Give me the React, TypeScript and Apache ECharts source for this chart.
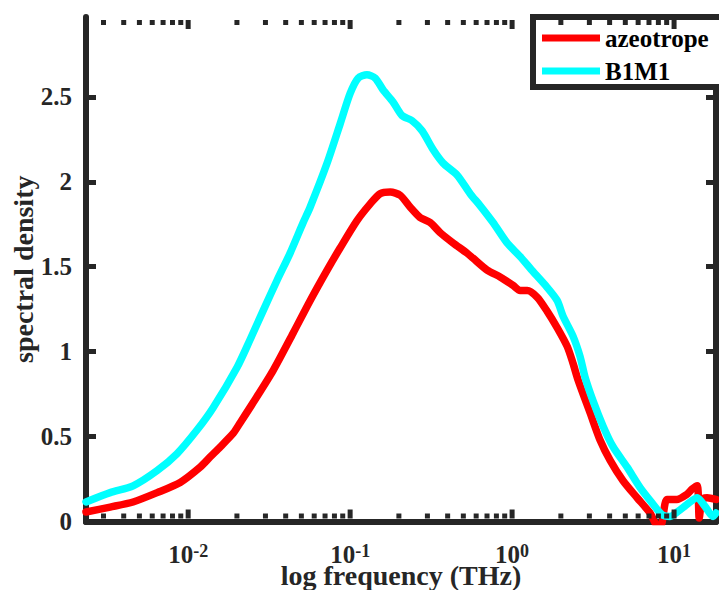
import React, { useEffect, useRef } from "react";
import * as echarts from "echarts";

// ---- data ----
const SERIES_NAMES = ["azeotrope", "B1M1"];

const AZ_FREQ = [0.00234, 0.0033, 0.00457, 0.00644, 0.00893, 0.01186, 0.01367, 0.0158, 0.019, 0.0209, 0.0252, 0.0335, 0.0445, 0.0566, 0.0721, 0.0867, 0.11, 0.133, 0.153, 0.177, 0.204, 0.235, 0.27, 0.312, 0.36, 0.432, 0.527, 0.574, 0.701, 0.843, 1.014, 1.12, 1.24, 1.43, 1.64, 1.9, 2.19, 2.38, 2.56, 3.03, 3.49, 4.03, 4.84, 5.91, 7.11, 7.85, 8.3, 9.03, 10.4, 12.0, 12.9, 13.9, 14.3, 14.9, 16.0, 18.15];
const AZ_VAL = [0.056, 0.085, 0.115, 0.17, 0.23, 0.32, 0.38, 0.44, 0.52, 0.58, 0.7, 0.89, 1.11, 1.3, 1.48, 1.61, 1.77, 1.87, 1.93, 1.94, 1.92, 1.85, 1.79, 1.76, 1.7, 1.64, 1.58, 1.55, 1.48, 1.44, 1.39, 1.36, 1.36, 1.32, 1.24, 1.14, 1.03, 0.93, 0.83, 0.64, 0.48, 0.36, 0.24, 0.14, 0.05, -0.02, -0.02, 0.13, 0.13, 0.16, 0.19, 0.21, 0.02, 0.13, 0.14, 0.13];

const B1_FREQ = [0.00234, 0.0033, 0.00457, 0.00644, 0.00855, 0.01137, 0.01426, 0.0201, 0.0241, 0.029, 0.0354, 0.0426, 0.0513, 0.0566, 0.0721, 0.0867, 0.1, 0.112, 0.127, 0.143, 0.16, 0.184, 0.209, 0.241, 0.278, 0.325, 0.375, 0.457, 0.551, 0.634, 0.763, 0.931, 1.12, 1.35, 1.64, 1.9, 2.06, 2.38, 2.63, 2.82, 3.16, 3.65, 4.2, 5.13, 6.17, 7.31, 8.43, 9.45, 10.6, 12.0, 13.9, 15.5, 17.4, 18.15];
const B1_VAL = [0.115, 0.17, 0.21, 0.3, 0.4, 0.54, 0.67, 0.91, 1.07, 1.24, 1.42, 1.58, 1.76, 1.85, 2.11, 2.34, 2.52, 2.61, 2.63, 2.61, 2.54, 2.47, 2.39, 2.36, 2.3, 2.19, 2.11, 2.04, 1.93, 1.86, 1.76, 1.64, 1.56, 1.47, 1.38, 1.3, 1.21, 1.09, 0.97, 0.85, 0.71, 0.56, 0.44, 0.32, 0.2, 0.11, 0.04, 0.03, 0.06, 0.1, 0.14, 0.09, 0.03, 0.05];

const X_MIN = 0.00234;
const X_MAX = 18.15;
const Y_MIN = 0;
const Y_MAX = 2.97;
const Y_STEP = 0.5;

const X_MAJOR_TICKS = [0.01, 0.1, 1, 10];
const X_MINOR_TICKS = [
  0.003, 0.004, 0.005, 0.006, 0.007, 0.008, 0.009,
  0.02, 0.03, 0.04, 0.05, 0.06, 0.07, 0.08, 0.09,
  0.2, 0.3, 0.4, 0.5, 0.6, 0.7, 0.8, 0.9,
  2, 3, 4, 5, 6, 7, 8, 9,
];

const X_TITLE = "log frequency (THz)";
const Y_TITLE = "spectral density";

const FONT = "Liberation Serif, Times New Roman, serif";
const AXIS_COLOR = "#262626";

// tick marks drawn inward from the frame; visible part only (frame half-width = 3)
function tickSeries(values: number[], atTop: boolean, major: boolean) {
  const h = major ? 9 : 5;
  const off = 3 + h / 2;
  return {
    type: "scatter",
    xAxisIndex: 0,
    yAxisIndex: 0,
    silent: true,
    clip: false,
    z: 20,
    zlevel: 0,
    symbol: "rect",
    symbolSize: [5, h],
    symbolOffset: [0, atTop ? off : -off],
    itemStyle: { color: AXIS_COLOR, opacity: 1 },
    emphasis: { disabled: true },
    data: values.map((v) => [v, atTop ? Y_MAX : Y_MIN]),
  };
}

export default function App() {
  const ref = useRef<HTMLDivElement>(null);

  useEffect(() => {
    if (!ref.current) return;
    const chart = echarts.init(ref.current, undefined, { renderer: "svg" });

    const option: any = {
      animation: false,
      backgroundColor: "#ffffff",
      grid: {
        left: 86,
        right: 3,
        top: 17,
        bottom: 68.5,
        containLabel: false,
        outerBoundsMode: "none",
      },
      legend: {
        data: SERIES_NAMES,
        orient: "vertical",
        left: 533,
        top: 17,
        icon: "rect",
        itemWidth: 58,
        itemHeight: 7,
        itemGap: 7,
        padding: [8, 24, 3, 9],
        borderColor: AXIS_COLOR,
        borderWidth: 6,
        borderRadius: 0,
        backgroundColor: "#ffffff",
        textStyle: {
          fontFamily: FONT,
          fontWeight: "bold",
          fontSize: 25,
          lineHeight: 26,
          color: "#000",
        },
      },
      xAxis: [
        {
          type: "log",
          logBase: 10,
          min: X_MIN,
          max: X_MAX,
          position: "bottom",
          name: X_TITLE,
          nameLocation: "middle",
          nameGap: 42,
          nameMoveOverlap: false,
          nameTextStyle: {
            fontFamily: FONT,
            fontWeight: "bold",
            fontSize: 28,
            lineHeight: 24,
            color: AXIS_COLOR,
          },
          axisLine: { show: true, lineStyle: { color: AXIS_COLOR, width: 6 } },
          axisTick: { show: false },
          splitLine: { show: false },
          minorTick: { show: false },
          axisLabel: {
            showMinLabel: false,
            showMaxLabel: false,
            margin: 20,
            formatter: (v: number) => {
              const e = Math.round(Math.log10(v));
              return `{b|10}{s|${e}}`;
            },
            rich: {
              b: {
                fontFamily: FONT,
                fontWeight: "bold",
                fontSize: 25,
                lineHeight: 18,
                color: AXIS_COLOR,
                padding: [8, 0, 0, 0],
              },
              s: {
                fontFamily: FONT,
                fontWeight: "bold",
                fontSize: 18,
                lineHeight: 14,
                color: AXIS_COLOR,
                verticalAlign: "top",
              },
            },
          },
        },
        {
          type: "log",
          logBase: 10,
          min: X_MIN,
          max: X_MAX,
          position: "top",
          axisLine: { show: true, lineStyle: { color: AXIS_COLOR, width: 6 } },
          axisTick: { show: false },
          axisLabel: { show: false },
          splitLine: { show: false },
        },
      ],
      yAxis: [
        {
          type: "value",
          min: Y_MIN,
          max: Y_MAX,
          interval: Y_STEP,
          position: "left",
          name: Y_TITLE,
          nameLocation: "middle",
          nameGap: 49,
          nameMoveOverlap: false,
          nameTextStyle: {
            fontFamily: FONT,
            fontWeight: "bold",
            fontSize: 28,
            color: AXIS_COLOR,
          },
          axisLine: { show: true, lineStyle: { color: AXIS_COLOR, width: 6 } },
          axisTick: { show: true, inside: true, length: 10, lineStyle: { color: AXIS_COLOR, width: 5 } },
          splitLine: { show: false },
          axisLabel: {
            showMaxLabel: false,
            margin: 14,
            fontFamily: FONT,
            fontWeight: "bold",
            fontSize: 25,
            color: AXIS_COLOR,
          },
        },
        {
          type: "value",
          min: Y_MIN,
          max: Y_MAX,
          interval: Y_STEP,
          position: "right",
          axisLine: { show: true, lineStyle: { color: AXIS_COLOR, width: 6 } },
          axisTick: { show: true, inside: true, length: 10, lineStyle: { color: AXIS_COLOR, width: 5 } },
          splitLine: { show: false },
          axisLabel: { show: false },
        },
      ],
      series: [
        {
          name: SERIES_NAMES[0],
          type: "line",
          xAxisIndex: 0,
          yAxisIndex: 0,
          data: AZ_FREQ.map((f, i) => [f, AZ_VAL[i]]),
          showSymbol: false,
          symbol: "none",
          smooth: 0.25,
          color: "#ff0000",
          lineStyle: { color: "#ff0000", width: 7.5, cap: "round", join: "round" },
          clip: true,
          z: 2,
        },
        {
          name: SERIES_NAMES[1],
          type: "line",
          xAxisIndex: 0,
          yAxisIndex: 0,
          data: B1_FREQ.map((f, i) => [f, B1_VAL[i]]),
          showSymbol: false,
          symbol: "none",
          smooth: 0.25,
          color: "#00ffff",
          lineStyle: { color: "#00ffff", width: 7.5, cap: "round", join: "round" },
          clip: true,
          z: 3,
        },
        tickSeries(X_MAJOR_TICKS, false, true),
        tickSeries(X_MINOR_TICKS, false, false),
        tickSeries(X_MAJOR_TICKS, true, true),
        tickSeries(X_MINOR_TICKS, true, false),
      ],
    };

    chart.setOption(option);
    return () => {
      chart.dispose();
    };
  }, []);

  return (
    <div
      ref={ref}
      style={{ position: "absolute", left: 0, top: 0, width: 719, height: 590 }}
    />
  );
}
